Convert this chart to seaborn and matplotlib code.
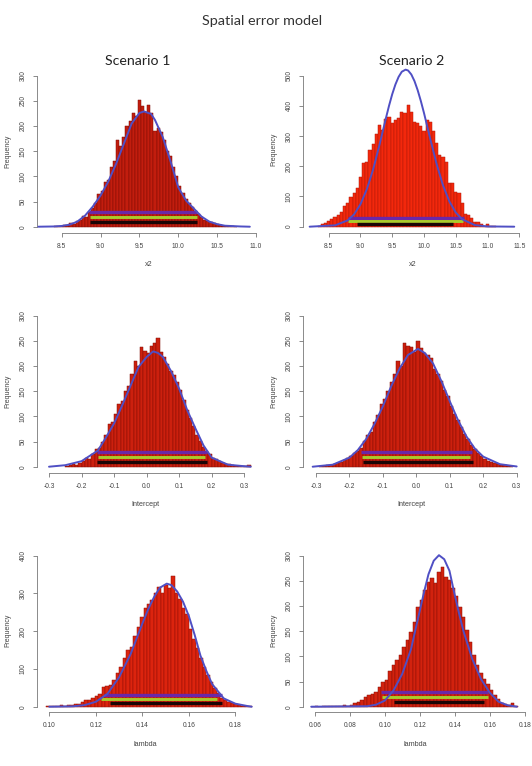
import numpy as np
import pandas as pd
import matplotlib
matplotlib.use("Agg")
import matplotlib.pyplot as plt
import seaborn as sns

# ---------------- data ----------------
# Scenario 1, x2
s1_x2_start, s1_x2_width = 8.40, 0.04
s1_x2_counts = [1, 1, 2, 3, 4, 7, 6, 11, 14, 22, 20, 30, 38, 48, 64, 70, 88, 92, 118, 130,
                172, 160, 178, 200, 210, 225, 220, 252, 240, 228, 242, 225, 190, 196, 188,
                172, 150, 140, 118, 100, 80, 66, 55, 48, 40, 32, 25, 20, 14, 12, 9, 8, 5,
                3, 2, 2, 1, 1, 0]
s1_x2_curve_x = [8.2, 8.4, 8.5, 8.6, 8.7, 8.8, 8.9, 9.0, 9.1, 9.2, 9.3, 9.4, 9.5, 9.56, 9.65,
                 9.7, 9.8, 9.9, 10.0, 10.1, 10.2, 10.3, 10.4, 10.5, 10.6, 10.8, 10.92]
s1_x2_curve_y = [0, 0.5, 1.5, 4, 10, 22, 40, 62, 90, 125, 165, 205, 226, 229, 224,
                 212, 178, 130, 78, 52, 36, 20, 10, 5, 2, 0.5, 0]

# Scenario 2, x2
s2_x2_start, s2_x2_width = 8.325, 0.05
s2_x2_counts = [3, 8, 13, 18, 24, 33, 39, 50, 68, 80, 99, 113, 127, 166, 212, 215, 254, 274,
                307, 337, 320, 355, 364, 342, 353, 359, 381, 375, 403, 381, 348, 344, 333,
                317, 353, 348, 317, 276, 237, 232, 215, 143, 143, 116, 110, 77, 42, 39, 28,
                17, 14, 8, 3, 9, 3, 1]
s2_x2_curve_x = [8.2, 8.6, 8.8, 8.9, 9.0, 9.1, 9.2, 9.3, 9.4, 9.45, 9.5, 9.55, 9.6, 9.65, 9.71,
                 9.75, 9.8, 9.85, 9.9, 9.95, 10.0, 10.1, 10.2, 10.3, 10.4, 10.5, 10.6, 10.8,
                 11.0, 11.42]
s2_x2_curve_y = [0, 4.5, 21, 41, 74.5, 124, 190, 272, 359, 401, 439, 471, 496, 513, 520,
                 517, 504, 482, 452, 416, 376, 289, 206, 136, 83, 47, 24.5, 5.3, 0.8, 0]

# Scenario 1, Intercept
s1_int_start, s1_int_width = -0.25, 0.01
s1_int_counts = [2, 4, 5, 4, 8, 12, 18, 15, 26, 36, 38, 50, 62, 85, 88, 105, 125, 130, 150,
                 160, 185, 210, 200, 238, 230, 225, 240, 245, 255, 228, 218, 205, 190, 182,
                 168, 152, 132, 112, 96, 80, 62, 52, 40, 32, 26, 18, 15, 12, 8, 6, 5, 3, 2,
                 2, 1, 1, 3]
s1_int_curve_x = [-0.30, -0.25, -0.2, -0.15, -0.125, -0.1, -0.075, -0.05, -0.025, 0.0, 0.02,
                  0.035, 0.05, 0.075, 0.1, 0.125, 0.15, 0.175, 0.2, 0.25, 0.3, 0.32]
s1_int_curve_y = [0, 3, 11, 32, 58, 86, 122, 160, 198, 218, 229, 226, 218, 190, 155, 112, 76,
                  42, 18, 4, 1, 0]

# Scenario 2, Intercept
s2_int_start, s2_int_width = -0.29, 0.01
s2_int_counts = [1, 2, 3, 4, 5, 7, 10, 14, 18, 22, 28, 32, 38, 52, 62, 68, 88, 102, 125, 135,
                 150, 168, 185, 210, 200, 245, 240, 238, 228, 250, 235, 225, 222, 215, 195,
                 185, 170, 152, 140, 120, 105, 92, 78, 65, 55, 44, 36, 28, 22, 16, 12, 10, 7,
                 5, 4, 3, 2, 1]
s2_int_curve_x = [-0.31, -0.25, -0.2, -0.175, -0.15, -0.125, -0.1, -0.075, -0.05, -0.025,
                  0.005, 0.025, 0.05, 0.075, 0.1, 0.125, 0.15, 0.175, 0.2, 0.25, 0.3]
s2_int_curve_y = [0, 4, 18, 33, 55, 85, 120, 160, 195, 222, 234, 226, 205, 170, 130, 92, 60,
                  36, 20, 5, 0.5]

# Scenario 1, lambda
s1_lam_start, s1_lam_width = 0.0985, 0.0015
s1_lam_counts = [1, 2, 2, 3, 4, 3, 5, 5, 6, 8, 12, 17, 19, 24, 28, 33, 52, 55, 58, 72, 88,
                 106, 128, 150, 158, 188, 210, 238, 262, 272, 282, 300, 318, 300, 322, 315,
                 345, 300, 285, 262, 245, 205, 180, 155, 128, 105, 85, 66, 50, 36, 24, 17,
                 12, 9, 6, 4, 3, 2, 1]
s1_lam_curve_x = [0.100, 0.110, 0.115, 0.120, 0.125, 0.130, 0.135, 0.140, 0.1425, 0.145,
                  0.1475, 0.1505, 0.1525, 0.155, 0.1575, 0.160, 0.1625, 0.165, 0.1675, 0.170,
                  0.175, 0.180, 0.185, 0.187]
s1_lam_curve_y = [0, 1, 4, 13, 34, 78, 140, 220, 258, 290, 315, 326, 322, 305, 278, 240, 190,
                  135, 95, 60, 22, 8, 2, 0]

# Scenario 2, lambda
s2_lam_start, s2_lam_width = 0.058, 0.002
s2_lam_counts = [0, 1, 0, 1, 1, 1, 2, 1, 2, 3, 2, 4, 7, 10, 13, 20, 23, 26, 30, 40, 50, 53,
                 70, 83, 93, 103, 119, 132, 149, 169, 199, 212, 232, 248, 255, 245, 268, 278,
                 258, 252, 235, 219, 199, 179, 152, 129, 103, 83, 66, 56, 45, 33, 23, 15, 8,
                 5, 3, 7, 1]
s2_lam_curve_x = [0.058, 0.090, 0.095, 0.100, 0.105, 0.110, 0.115, 0.1175, 0.120, 0.1225,
                  0.125, 0.128, 0.131, 0.134, 0.137, 0.140, 0.1425, 0.145, 0.150, 0.155,
                  0.160, 0.165, 0.170, 0.1755]
s2_lam_curve_y = [0, 1, 4, 12, 32, 65, 114, 152, 190, 228, 263, 290, 301, 293, 270, 222, 185,
                  150, 95, 55, 28, 10, 3, 0]

# interval lines: (purple, yellow-green, black)
interval_levels = [30, 20, 10]
s1_x2_intervals = [(8.855, 10.245), (8.86, 10.24), (8.87, 10.24)]
s2_x2_intervals = [(8.80, 10.63), (8.80, 10.62), (8.95, 10.45)]
s1_int_intervals = [(-0.154, 0.186), (-0.148, 0.179), (-0.151, 0.186)]
s2_int_intervals = [(-0.165, 0.166), (-0.163, 0.160), (-0.160, 0.168)]
s1_lam_intervals = [(0.1235, 0.1741), (0.1221, 0.1723), (0.1260, 0.1741)]
s2_lam_intervals = [(0.0979, 0.1592), (0.0985, 0.1592), (0.1051, 0.1570)]

# axis ticks
x2_s1_ticks = [8.5, 9.0, 9.5, 10.0, 10.5, 11.0]
x2_s2_ticks = [8.5, 9.0, 9.5, 10.0, 10.5, 11.0, 11.5]
int_ticks = [-0.3, -0.2, -0.1, 0.0, 0.1, 0.2, 0.3]
lam_s1_ticks = [0.10, 0.12, 0.14, 0.16, 0.18]
lam_s2_ticks = [0.06, 0.08, 0.10, 0.12, 0.14, 0.16, 0.18]
y_ticks_300 = [0, 50, 100, 150, 200, 250, 300]
y_ticks_500 = [0, 100, 200, 300, 400, 500]
y_ticks_400 = [0, 100, 200, 300, 400]

# ---------------- figure ----------------
sns.set_theme(style="ticks")
plt.rcParams['font.family'] = ['Liberation Sans', 'DejaVu Sans']

W, H = 532, 766
fig = plt.figure(figsize=(W / 100, H / 100), dpi=100)
fig.patch.set_facecolor("white")

TXT = "#444444"
AX = "#777777"
BLUE = "#4f4fc4"
LINE_COLORS = ["#6a28a8", "#a8cc2c", "#1a0505"]
LINE_W = [2.4, 2.1, 2.4]

panels = [
    dict(counts=s1_x2_counts, start=s1_x2_start, width=s1_x2_width, cx=s1_x2_curve_x,
         cy=s1_x2_curve_y, iv=s1_x2_intervals, xt=x2_s1_ticks, yt=y_ticks_300, fmt="%.1f",
         box=(37.3, 69, 260, 233), xlim=(8.186, 11.051), ylim=(-12.5, 313.3), xlabel="x2",
         face="#c21d0e", edge="#7e0c05"),
    dict(counts=s2_x2_counts, start=s2_x2_start, width=s2_x2_width, cx=s2_x2_curve_x,
         cy=s2_x2_curve_y, iv=s2_x2_intervals, xt=x2_s2_ticks, yt=y_ticks_500, fmt="%.1f",
         box=(303.3, 66, 522, 233), xlim=(8.100, 11.542), ylim=(-20.9, 532), xlabel="x2",
         face="#f3280c", edge="#b01a0a"),
    dict(counts=s1_int_counts, start=s1_int_start, width=s1_int_width, cx=s1_int_curve_x,
         cy=s1_int_curve_y, iv=s1_int_intervals, xt=int_ticks, yt=y_ticks_300, fmt="%.1f",
         box=(37.3, 309, 254, 473), xlim=(-0.336, 0.330), ylim=(-12.5, 313.3),
         xlabel="Intercept", face="#cc200e", edge="#820d05"),
    dict(counts=s2_int_counts, start=s2_int_start, width=s2_int_width, cx=s2_int_curve_x,
         cy=s2_int_curve_y, iv=s2_int_intervals, xt=int_ticks, yt=y_ticks_300, fmt="%.1f",
         box=(303.3, 309, 520, 473), xlim=(-0.338, 0.310), ylim=(-12.5, 313.3),
         xlabel="Intercept", face="#cc200e", edge="#820d05"),
    dict(counts=s1_lam_counts, start=s1_lam_start, width=s1_lam_width, cx=s1_lam_curve_x,
         cy=s1_lam_curve_y, iv=s1_lam_intervals, xt=lam_s1_ticks, yt=y_ticks_400, fmt="%.2f",
         box=(37.3, 549, 254, 712), xlim=(0.09484, 0.188), ylim=(-14.0, 417.7),
         xlabel="lambda", face="#dc240e", edge="#900f06"),
    dict(counts=s2_lam_counts, start=s2_lam_start, width=s2_lam_width, cx=s2_lam_curve_x,
         cy=s2_lam_curve_y, iv=s2_lam_intervals, xt=lam_s2_ticks, yt=y_ticks_300, fmt="%.2f",
         box=(303.3, 549, 527, 712), xlim=(0.05349, 0.1813), ylim=(-10.5, 313.3),
         xlabel="lambda", face="#d2220e", edge="#880e06"),
]

for p in panels:
    l, t, r, b = p["box"]
    ax = fig.add_axes([l / W, 1 - b / H, (r - l) / W, (b - t) / H])
    ax.set_facecolor("none")
    counts = np.asarray(p["counts"], dtype=float)
    edges = p["start"] + p["width"] * np.arange(len(counts) + 1)
    centers = edges[:-1] + p["width"] / 2
    df = pd.DataFrame({"value": centers, "count": counts})
    sns.histplot(data=df, x="value", weights="count", bins=list(edges), ax=ax,
                 color=p["face"], edgecolor=p["edge"], linewidth=0.35, alpha=1.0)
    for (lo, hi), lev, col, lw in zip(p["iv"], interval_levels, LINE_COLORS, LINE_W):
        ax.hlines(lev, lo, hi, color=col, linewidth=lw, zorder=3)
    cdf = pd.DataFrame({"x": p["cx"], "y": p["cy"]})
    sns.lineplot(data=cdf, x="x", y="y", ax=ax, color=BLUE, linewidth=1.4, zorder=4)

    ax.set_xlim(*p["xlim"])
    ax.set_ylim(*p["ylim"])
    ax.set_xticks(p["xt"])
    ax.set_xticklabels([p["fmt"] % v for v in p["xt"]])
    ax.set_yticks(p["yt"])
    ax.set_yticklabels([str(v) for v in p["yt"]], rotation=90, va="center")
    ax.tick_params(direction="out", length=3, width=0.6, colors=AX, labelcolor=TXT,
                   labelsize=4.8, pad=4.5)
    for s in ["top", "right"]:
        ax.spines[s].set_visible(False)
    for s in ["left", "bottom"]:
        ax.spines[s].set_color(AX)
        ax.spines[s].set_linewidth(0.6)
    ax.spines["left"].set_bounds(p["yt"][0], p["yt"][-1])
    ax.spines["bottom"].set_bounds(p["xt"][0], p["xt"][-1])
    ax.set_xlabel("")
    ax.set_ylabel("")

    cxp = (l + r) / 2
    fig.text(cxp / W, 1 - (b + 32) / H, p["xlabel"], ha="center", va="center",
             fontsize=5.2, color=TXT)
    fig.text((l - 29) / W, 1 - ((t + b) / 2) / H, "Frequency", ha="center", va="center",
             rotation=90, fontsize=5.0, color=TXT)

fig.text(262 / W, 1 - 25 / H, "Spatial error model", ha="center", va="baseline",
         fontsize=10.4, color="#333333", family=["Lato", "DejaVu Sans"])
fig.text(137.9 / W, 1 - 65 / H, "Scenario 1", ha="center", va="baseline",
         fontsize=10.2, color="#222222", family=["Lato", "DejaVu Sans"])
fig.text(411.7 / W, 1 - 65 / H, "Scenario 2", ha="center", va="baseline",
         fontsize=10.2, color="#222222", family=["Lato", "DejaVu Sans"])

fig.savefig("out.png", dpi=100, facecolor="white")
